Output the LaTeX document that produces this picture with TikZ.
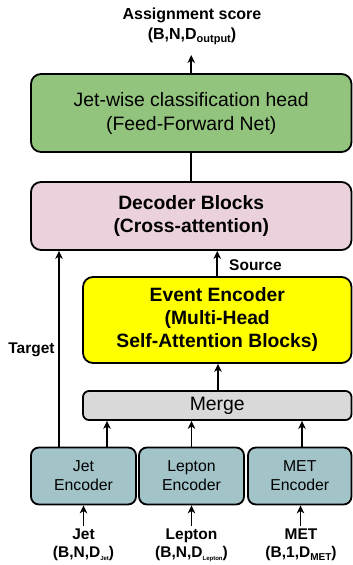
\documentclass[tikz,border=0pt]{standalone}
\usepackage{fontspec}
\setmainfont{Liberation Sans}
\usetikzlibrary{arrows.meta}
\definecolor{headgreen}{HTML}{93C47D}
\definecolor{decpink}{HTML}{EAD1DC}
\definecolor{evyellow}{HTML}{FFFF00}
\definecolor{mergegray}{HTML}{D9D9D9}
\definecolor{encteal}{HTML}{A2C4C9}
\newcommand{\sbx}[3]{\raisebox{-#2}{\fontsize{#3}{#3}\selectfont #1}}
\begin{document}
\begin{tikzpicture}[x=1pt,y=-1pt,
  blk/.style={draw=black, line width=1.8pt, rounded corners=10pt, inner sep=0pt, align=center},
  bigtxt/.style={font=\fontsize{19.4}{24}\selectfont},
  bigbold/.style={font=\fontsize{19.3}{23}\selectfont\bfseries},
  enctxt/.style={font=\fontsize{15.8}{19}\selectfont},
  lbl/.style={font=\fontsize{15.5}{18}\selectfont\bfseries, align=center, inner sep=0pt},
  arr/.style={line width=1.8pt, -{Stealth[length=8pt,width=7.5pt,inset=2.5pt]}},
  con/.style={line width=1.8pt}]
\useasboundingbox (0,0) rectangle (353,565);

\node[blk, fill=headgreen, minimum width=320.5pt, minimum height=78pt, bigtxt] (head) at (191.25,113)
  {Jet-wise classification head\\(Feed-Forward Net)};
\node[blk, fill=decpink, minimum width=320.5pt, minimum height=68pt, bigbold] (dec) at (191.25,216)
  {Decoder Blocks\\(Cross-attention)};
\node[blk, fill=evyellow, minimum width=268.5pt, minimum height=86pt, bigbold] (ev) at (217.25,320)
  {Event Encoder\\(Multi-Head\\Self-Attention Blocks)};
\node[blk, rounded corners=6pt, fill=mergegray, minimum width=268.5pt, minimum height=29pt, bigtxt] (merge) at (217.25,405.5)
  {Merge};
\node[blk, rounded corners=8pt, fill=encteal, minimum width=105pt, minimum height=57pt, enctxt] (jetenc) at (83.5,476)
  {Jet\\Encoder};
\node[blk, rounded corners=8pt, fill=encteal, minimum width=105pt, minimum height=57pt, enctxt] (lepenc) at (191.5,476)
  {Lepton\\Encoder};
\node[blk, rounded corners=8pt, fill=encteal, minimum width=103.5pt, minimum height=57pt, enctxt] (metenc) at (299.75,476)
  {MET\\Encoder};

% output label
\node[lbl, font=\fontsize{16}{20}\selectfont\bfseries, anchor=north, inner sep=0pt] (outlbl) at (192,8)
  {Assignment score\\(B,N,D\sbx{output}{3pt}{11})};
\coordinate (outtip) at (191.25,55);
\draw[arr] (head.north) -- (outtip);

% decoder to head
\draw[con] (dec.north) -- (head.south);

% source
\draw[arr] (ev.north) -- (ev.north |- dec.south);
\node[lbl, anchor=west] (srclbl) at (229,265) {Source};

% target
\coordinate (tgt) at (59,447.5);
\draw[arr] (tgt) -- (tgt |- dec.south);
\node[lbl] (tgtlbl) at (31.5,350) {Target};

% merge to event encoder
\draw[arr] ([xshift=0.75pt]merge.north) -- ([xshift=0.75pt]ev.south);

% encoders to merge
\draw[arr] ([xshift=23.5pt]jetenc.north) -- ([xshift=23.5pt]jetenc.north |- merge.south);
\draw[arr] (lepenc.north) -- (lepenc.north |- merge.south);
\draw[arr] ([xshift=2.25pt]metenc.north) -- ([xshift=2.25pt]metenc.north |- merge.south);

% inputs
\node[lbl, anchor=north, inner sep=3pt] (jetin) at (83.5,526)
  {Jet\\(B,N,D\sbx{Jet}{3pt}{6})};
\node[lbl, anchor=north, inner sep=3pt] (lepin) at (191.5,526)
  {Lepton\\(B,N,D\sbx{Lepton}{3pt}{6})};
\node[lbl, anchor=north, inner sep=3pt] (metin) at (301,526)
  {MET\\(B,1,D\sbx{MET}{3pt}{10})};
\draw[arr] (jetin.north) -- (jetenc.south);
\draw[arr] (lepin.north) -- (lepenc.south);
\draw[arr] ([xshift=-0.5pt]metin.north) -- ([xshift=-0.5pt]metin.north |- metenc.south);
\end{tikzpicture}
\end{document}
